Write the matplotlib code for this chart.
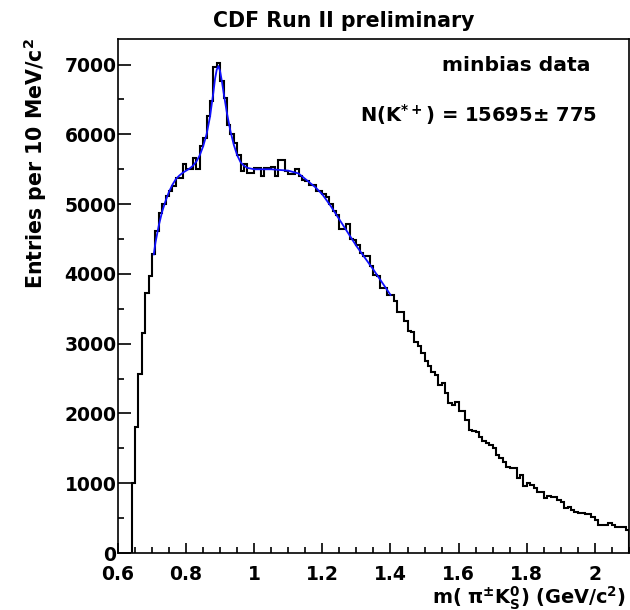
import numpy as np
from matplotlib import pyplot as plt
from matplotlib.ticker import MultipleLocator, FixedLocator

plt.rcParams["font.family"] = "DejaVu Sans"
plt.rcParams["font.weight"] = "bold"
plt.rcParams["mathtext.fontset"] = "custom"
plt.rcParams["mathtext.rm"] = "DejaVu Sans:bold"
plt.rcParams["mathtext.it"] = "DejaVu Sans:bold"
plt.rcParams["mathtext.bf"] = "DejaVu Sans:bold"
plt.rcParams["mathtext.default"] = "regular"

# histogram: 10 MeV bins, 0.64 .. 2.10 GeV
bin_lo = 0.64
bin_w = 0.01
counts_a = [1000, 1810, 2570, 3160, 3720, 3970, 4290, 4610, 4870, 5000, 5110, 5190,
            5260, 5380, 5380, 5570, 5500, 5500, 5660, 5500, 5840, 5950, 6260, 6480]
counts_b = [6960, 7030, 6760, 6520, 6140, 6000, 5880, 5710, 5470, 5570, 5450, 5450,
            5520, 5520, 5400, 5520, 5520, 5530, 5400, 5640, 5640, 5470, 5430, 5430,
            5500, 5400, 5350]
counts_c = [5330, 5280, 5280, 5190, 5190, 5150, 5100, 5000, 4900, 4850, 4640, 4640,
            4710, 4500, 4490, 4420, 4300, 4260, 4250, 4110, 3990, 3970, 3800, 3800,
            3700, 3700, 3610, 3460, 3460]
counts_d = [3320, 3180, 3170, 3030, 2970, 2870, 2750, 2680, 2600, 2555, 2410, 2435,
            2290, 2150, 2125, 2170, 2030, 2030, 1910, 1765, 1750, 1740, 1670, 1600,
            1575, 1550, 1500]
counts_e = [1406, 1358, 1311, 1239, 1215, 1215, 1071, 1119, 961, 1000, 976, 928,
            880, 880, 785, 818, 808, 808, 761, 737, 641, 656, 617, 590, 569, 569,
            565, 565, 521, 474, 402, 402, 402, 426, 402, 378, 378, 378, 330]
counts = np.array(counts_a + counts_b + counts_c + counts_d + counts_e)
edges = bin_lo + bin_w * np.arange(len(counts) + 1)

# fit curve
fit_x = [0.705, 0.71, 0.72, 0.73, 0.74, 0.75, 0.76, 0.77, 0.78, 0.79, 0.80, 0.81,
         0.82, 0.83, 0.84, 0.85, 0.86, 0.87, 0.88, 0.885, 0.89, 0.895, 0.90, 0.905,
         0.91, 0.92, 0.93, 0.94, 0.95, 0.96, 0.97, 0.98, 1.00, 1.05, 1.10, 1.13,
         1.15, 1.18, 1.20, 1.225, 1.25, 1.275, 1.30, 1.325, 1.35, 1.375, 1.40]
fit_y = [4280, 4450, 4700, 4900, 5050, 5180, 5280, 5360, 5410, 5450, 5480, 5510,
         5550, 5610, 5700, 5830, 6000, 6250, 6600, 6800, 6930, 6980, 6900, 6760,
         6600, 6300, 6050, 5850, 5700, 5600, 5550, 5520, 5500, 5500, 5480, 5440,
         5360, 5240, 5140, 4970, 4780, 4590, 4400, 4230, 4060, 3880, 3700]

fig = plt.figure(figsize=(6.3, 6.1), dpi=100)
ax = fig.add_axes([0.1873, 0.0934, 0.811, 0.843])

ax.stairs(counts, edges, baseline=0, color='black', linewidth=1.5)
ax.plot(fit_x, fit_y, color='#1010ff', linewidth=1.3)

ax.set_xlim(0.6, 2.1)
ax.set_ylim(0, 7370)

ax.xaxis.set_major_locator(FixedLocator([0.6, 0.8, 1.0, 1.2, 1.4, 1.6, 1.8, 2.0]))
ax.xaxis.set_minor_locator(MultipleLocator(0.05))
ax.yaxis.set_major_locator(MultipleLocator(1000))
ax.yaxis.set_minor_locator(MultipleLocator(500))
ax.set_xticklabels(['0.6', '0.8', '1', '1.2', '1.4', '1.6', '1.8', '2'])
ax.tick_params(which='both', direction='in', top=False, right=False, width=1.2,
               labelsize=13.5)
ax.tick_params(axis='y', which='major', length=9, pad=1)
ax.tick_params(axis='y', which='minor', length=4.5)
ax.tick_params(axis='x', which='major', length=7.5, pad=8.5)
ax.tick_params(axis='x', which='minor', length=4)
for s in ax.spines.values():
    s.set_linewidth(1.2)

fig.text(0.545, 0.966, 'CDF Run II preliminary', ha='center', va='center',
         fontsize=14.8, fontweight='bold')
fig.text(0.937, 0.893, 'minbias data', ha='right', va='center',
         fontsize=14.6, fontweight='bold')
fig.text(0.948, 0.813, r'N(K$^{*+}$) = 15695$\pm$ 775', ha='right', va='center',
         fontsize=14, fontweight='bold')
fig.text(0.056, 0.937, r'Entries per 10 MeV/c$^{2}$', rotation=90, ha='center',
         va='top', fontsize=14.8, fontweight='bold')
fig.text(0.993, 0.02, r'm( $\pi^{\pm}$K$^{0}_{S}$) (GeV/c$^{2}$)', ha='right',
         va='center', fontsize=13.9, fontweight='bold')

plt.savefig('out.png', dpi=100)
